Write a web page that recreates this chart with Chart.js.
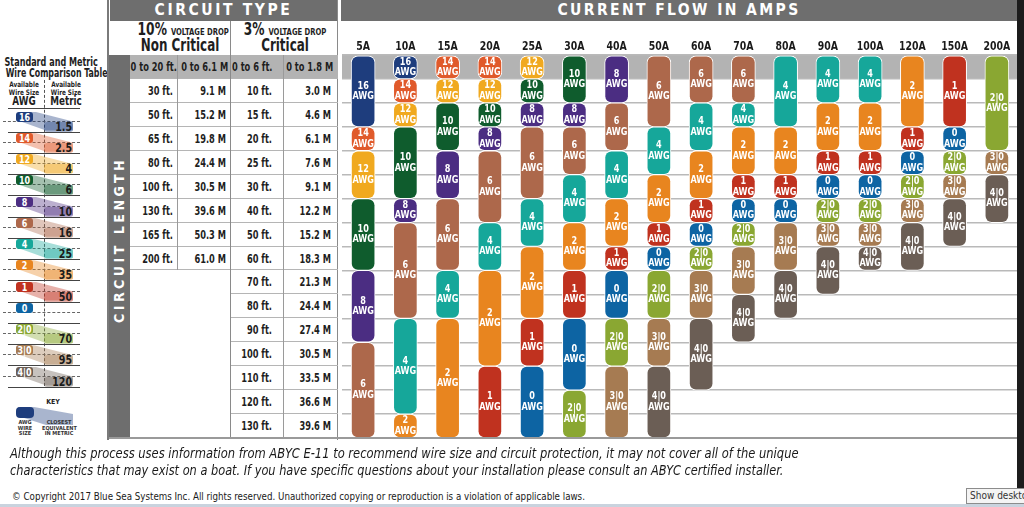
<!DOCTYPE html>
<html>
<head>
<meta charset="utf-8">
<script src="https://cdn.jsdelivr.net/npm/chart.js@4.4.1/dist/chart.umd.min.js"></script>
<style>
  body { margin: 0; background: #fff; }
  #page { position: relative; width: 1024px; height: 507px; overflow: hidden;
          font-family: "Liberation Sans Narrow", "DejaVu Sans Condensed", sans-serif; color: #1e1e1e; }
  #page div { position: absolute; box-sizing: border-box; white-space: nowrap; }
  .band { background: #6e6e6e; color: #fff; font-weight: bold; text-align: center; }
  .cell { font-size: 11.5px; font-weight: bold; text-align: right; line-height: 24px;
          transform: scaleX(0.8); transform-origin: right center; }
  canvas { position: absolute; left: 342px; top: 20px; }
</style>
</head>
<body>
<div id="page">
  <canvas id="chart" width="676" height="420"></canvas>
</div>
<script>
// ─── DATA ─────────────────────────────────────────────────────────────────────
const amps = ['5A', '10A', '15A', '20A', '25A', '30A', '40A', '50A', '60A', '70A', '80A', '90A', '100A', '120A', '150A', '200A'];

const lengthFt10 = ['0 to 20 ft.', '30 ft.', '50 ft.', '65 ft.', '80 ft.', '100 ft.', '130 ft.', '165 ft.', '200 ft.'];
const lengthM10 = ['0 to 6.1 M', '9.1 M', '15.2 M', '19.8 M', '24.4 M', '30.5 M', '39.6 M', '50.3 M', '61.0 M'];
const lengthFt3 = ['0 to 6 ft.', '10 ft.', '15 ft.', '20 ft.', '25 ft.', '30 ft.', '40 ft.', '50 ft.', '60 ft.',
                   '70 ft.', '80 ft.', '90 ft.', '100 ft.', '110 ft.', '120 ft.', '130 ft.'];
const lengthM3 = ['0 to 1.8 M', '3.0 M', '4.6 M', '6.1 M', '7.6 M', '9.1 M', '12.2 M', '15.2 M', '18.3 M',
                  '21.3 M', '24.4 M', '27.4 M', '30.5 M', '33.5 M', '36.6 M', '39.6 M'];

const awgSizes = ['16', '14', '12', '10', '8', '6', '4', '2', '1', '0', '2/0', '3/0', '4/0'];
const metricSizes = ['1.5', '2.5', '4', '6', '10', '16', '25', '35', '50', null, '70', '95', '120'];

// wire size (AWG) needed for each circuit length row, one list per current
const wire5A   = ['16','16','16','14','12','12','10','10','10','8','8','8','6','6','6','6'];
const wire10A  = ['16','14','12','10','10','10','8','6','6','6','6','4','4','4','4','2'];
const wire15A  = ['14','12','10','10','8','8','6','6','6','4','4','2','2','2','2','2'];
const wire20A  = ['14','12','10','8','6','6','6','4','4','2','2','2','2','1','1','1'];
const wire25A  = ['12','10','8','6','6','6','4','4','2','2','2','1','1','0','0','0'];
const wire30A  = ['10','10','8','6','6','4','4','2','2','1','1','0','0','0','2/0','2/0'];
const wire40A  = ['8','8','6','6','4','4','2','2','1','0','0','2/0','2/0','3/0','3/0','3/0'];
const wire50A  = ['6','6','6','4','4','2','2','1','0','2/0','2/0','3/0','3/0','4/0','4/0','4/0'];
const wire60A  = ['6','6','4','4','2','2','1','0','2/0','3/0','3/0','4/0','4/0','4/0',null,null];
const wire70A  = ['6','6','4','2','2','1','0','2/0','3/0','3/0','4/0','4/0',null,null,null,null];
const wire80A  = ['4','4','4','2','2','1','0','3/0','3/0','4/0','4/0',null,null,null,null,null];
const wire90A  = ['4','4','2','2','1','0','2/0','3/0','4/0','4/0',null,null,null,null,null,null];
const wire100A = ['4','4','2','2','1','0','2/0','3/0','4/0',null,null,null,null,null,null,null];
const wire120A = ['2','2','2','1','0','2/0','3/0','4/0','4/0',null,null,null,null,null,null,null];
const wire150A = ['1','1','1','0','2/0','3/0','4/0','4/0',null,null,null,null,null,null,null,null];
const wire200A = ['2/0','2/0','2/0','2/0','3/0','4/0','4/0',null,null,null,null,null,null,null,null,null];

const wireByAmp = [wire5A, wire10A, wire15A, wire20A, wire25A, wire30A, wire40A, wire50A,
                   wire60A, wire70A, wire80A, wire90A, wire100A, wire120A, wire150A, wire200A];

// ─── STYLE ────────────────────────────────────────────────────────────────────
const awgColor = {
  '16': '#1e3d7d', '14': '#e05a2b', '12': '#f0a91f', '10': '#0f5c2d', '8': '#4b2d82',
  '6': '#ad684b', '4': '#16a79a', '2': '#e8851f', '1': '#c0321f', '0': '#0d64a3',
  '2/0': '#8aa732', '3/0': '#a67b52', '4/0': '#6b5e55'
};
const FONT = '"Liberation Sans Narrow", "DejaVu Sans Condensed", sans-serif';
const SQUEEZE = 0.8;   // no narrow font installed, so condense by hand
const ROW_TOP = 55, ROW_H = 383 / 16;
const page = document.getElementById('page');

function box(css, text) {
  const d = document.createElement('div');
  d.style.cssText = css;
  if (text !== undefined) d.textContent = text;
  page.appendChild(d);
  return d;
}
const label = s => s.replace('/', '|');

// ─── LEFT PANEL: AWG / METRIC ─────────────────────────────────────────────────
const sq = (o, k = SQUEEZE) => `transform:scaleX(${k});transform-origin:${o};`;
box('left:-8px;top:57px;width:114px;text-align:center;font-weight:bold;font-size:11.5px;line-height:11px;' + sq('center', 0.78),
    'Standard and Metric');
box('left:-8px;top:68px;width:114px;text-align:center;font-weight:bold;font-size:11.5px;line-height:11px;' + sq('center', 0.76),
    'Wire Comparison Table');
const hdr = (x, y, size, t) =>
  box(`left:${x}px;top:${y}px;width:40px;text-align:center;font-weight:bold;font-size:${size}px;line-height:${size}px;` + sq('center', 0.85), t);
hdr(4, 81, 7.5, 'Available'); hdr(4, 88.5, 7.5, 'Wire Size');
hdr(46, 81, 7.5, 'Available'); hdr(46, 88.5, 7.5, 'Wire Size');
hdr(4, 96, 11.5, 'AWG'); hdr(46, 96, 11.5, 'Metric');
box('left:8px;top:108px;width:72px;height:0;border-top:1px solid #444;');
box('left:44px;top:80px;width:0;height:306px;border-left:1px dashed #555;');

awgSizes.forEach((size, i) => {
  const top = 111.5 + i * 21.25;
  const col = awgColor[size];
  box(`left:3px;top:${top + 9}px;width:77px;height:0;border-top:1px dashed #666;`);
  box(`left:8px;top:${top + 20}px;width:72px;height:0;border-top:1px solid #444;`);
  if (metricSizes[i] !== null) {
    box(`left:18px;top:${top}px;width:55px;height:20px;background:${col};opacity:0.38;
         clip-path:polygon(0 0,16px 0,55px 10px,55px 19px,28px 19px,0 9px);`);
    box(`left:44px;top:${top + 10}px;width:29px;height:10px;background:${col};opacity:0.38;border-radius:3px;`);
    box(`left:40px;top:${top + 9}px;width:32px;text-align:right;font-weight:bold;font-size:12px;line-height:12px;color:#1a1a1a;` + sq('right center', 0.88),
        metricSizes[i]);
  }
  box(`left:16px;top:${top}px;width:17px;height:10px;background:${col};border-radius:3px;`);
  box(`left:14px;top:${top}px;width:21px;color:#fff;text-align:center;font-weight:bold;font-size:10.5px;line-height:10px;` + sq('center', 0.85),
      label(size));
});

// key
box('left:36px;top:399px;width:34px;text-align:center;font-weight:bold;font-size:7px;line-height:7px;', 'KEY');
box(`left:18px;top:407px;width:55px;height:20px;background:${awgColor['16']};opacity:0.38;
     clip-path:polygon(0 0,16px 0,55px 7px,55px 18px,28px 18px,0 9px);`);
box(`left:16px;top:407px;width:18px;height:11px;background:${awgColor['16']};border-radius:4px;`);
['AWG', 'WIRE', 'SIZE'].forEach((t, i) =>
  box(`left:14px;top:${420 + i * 5.5}px;width:22px;text-align:center;font-weight:bold;font-size:5.5px;line-height:5.5px;color:#333;`, t));
['CLOSEST', 'EQUIVALENT', 'IN METRIC'].forEach((t, i) =>
  box(`left:42px;top:${420 + i * 5.5}px;width:34px;text-align:center;font-weight:bold;font-size:5.5px;line-height:5.5px;color:#333;`, t));

// ─── TABLE: CIRCUIT TYPE / LENGTH ─────────────────────────────────────────────
box('left:107px;top:0;width:2px;height:440px;background:#7a7a7a;');
box('left:110px;top:0;width:227px;height:21px;font-size:15.5px;line-height:21px;letter-spacing:2.6px;', 'CIRCUIT TYPE')
  .className = 'band';
box('left:341px;top:0;width:676px;height:21px;font-size:15.5px;line-height:21px;letter-spacing:2.4px;', 'CURRENT FLOW IN AMPS')
  .className = 'band';
box('left:337px;top:0;width:4px;height:440px;background:#fff;border-left:1.5px solid #8a8a8a;');

const head = (x, big, sub) => {
  const d = box(`left:${x}px;top:22px;width:106px;text-align:center;font-weight:bold;line-height:14px;` + sq('center', 0.8));
  d.innerHTML = `<span style="font-size:17px">${big}</span> <span style="font-size:9.5px">VOLTAGE DROP</span>`;
  box(`left:${x}px;top:37px;width:106px;text-align:center;font-weight:bold;font-size:17px;line-height:16px;` + sq('center', 0.78), sub);
};
head(127, '10%', 'Non Critical');
head(232, '3%', 'Critical');

box(`left:109px;top:${ROW_TOP}px;width:21px;height:${16 * ROW_H}px;background:#6e6e6e;`);
box(`left:${119 - 80}px;top:${243 - 10}px;width:160px;height:20px;text-align:center;color:#fff;font-weight:bold;
     font-size:14px;line-height:20px;letter-spacing:3.5px;transform:rotate(-90deg);`, 'CIRCUIT LENGTH');

box(`left:130px;top:${ROW_TOP}px;width:208px;height:${ROW_H}px;background:#b3b3b3;`);
lengthFt3.forEach((t, i) => {
  const y = ROW_TOP + i * ROW_H;
  const full = i <= 8;
  box(`left:${full ? 130 : 230}px;top:${y + ROW_H - 1}px;width:${full ? 208 : 108}px;height:0;border-top:1.5px solid #b5b5b5;`);
  if (full) {
    box(`left:120px;top:${y}px;width:53px;`, lengthFt10[i]).className = 'cell';
    box(`left:170px;top:${y}px;width:56px;`, lengthM10[i]).className = 'cell';
  }
  box(`left:222px;top:${y}px;width:50px;`, t).className = 'cell';
  box(`left:275px;top:${y}px;width:56px;`, lengthM3[i]).className = 'cell';
});
box(`left:177px;top:${ROW_TOP}px;width:0;height:${9 * ROW_H}px;border-left:1.5px solid #9a9a9a;`);
box(`left:230px;top:21px;width:0;height:${ROW_TOP - 21 + 16 * ROW_H}px;border-left:1.5px solid #8a8a8a;`);
box(`left:283px;top:${ROW_TOP}px;width:0;height:${16 * ROW_H}px;border-left:1.5px solid #9a9a9a;`);
box(`left:109px;top:${ROW_TOP + 16 * ROW_H - 1}px;width:908px;height:0;border-top:2px solid #9a9a9a;`);

// right edge + footer
box('left:1017px;top:0;width:7px;height:488px;background:#1c1c1c;');
box('left:10px;top:445px;font-style:italic;font-size:13.5px;line-height:17px;color:#1a1a1a;' + sq('left center', 0.948),
    'Although this process uses information from ABYC E-11 to recommend wire size and circuit protection, it may not cover all of the unique');
box('left:10px;top:462px;font-style:italic;font-size:13.5px;line-height:17px;color:#1a1a1a;' + sq('left center', 0.935),
    'characteristics that may exist on a boat. If you have specific questions about your installation please consult an ABYC certified installer.');
box('left:12px;top:490px;font-size:11px;line-height:13px;color:#1a1a1a;' + sq('left center', 0.88),
    '\u00a9 Copyright 2017 Blue Sea Systems Inc. All rights reserved. Unauthorized copying or reproduction is a violation of applicable laws.');
box('left:966px;top:488px;width:60px;height:16px;background:#f4f4f4;border:1px solid #8c8c8c;font-size:10px;line-height:14px;padding-left:3px;color:#333;',
    'Show desktop');
box('left:0;top:504px;width:1024px;height:3px;background:#c9d3de;');

// ─── CHART ────────────────────────────────────────────────────────────────────
function segments(sizes) {
  const out = [];
  sizes.forEach((s, i) => {
    if (s === null) return;
    const last = out[out.length - 1];
    if (last && last.size === s && last.end === i) last.end = i + 1;
    else out.push({ size: s, start: i, end: i + 1 });
  });
  return out;
}
const segs = wireByAmp.map(segments);
const maxSegs = Math.max(...segs.map(s => s.length));

const datasets = [];
for (let k = 0; k < maxSegs; k++) {
  datasets.push({
    data: segs.map(s => (s[k] ? [s[k].start, s[k].end] : null)),
    sizes: segs.map(s => (s[k] ? s[k].size : null)),
    backgroundColor: segs.map(s => (s[k] ? awgColor[s[k].size] : 'transparent')),
    borderColor: '#fff',
    borderWidth: 1,
    borderSkipped: false,
    borderRadius: 7,
    barThickness: 24,
    grouped: false
  });
}

const firstRowBand = {
  id: 'firstRowBand',
  beforeDraw(chart) {
    const { ctx, chartArea, scales } = chart;
    ctx.save();
    ctx.fillStyle = '#b3b3b3';
    const y0 = scales.y.getPixelForValue(0), y1 = scales.y.getPixelForValue(1);
    ctx.fillRect(chartArea.left, y0, chartArea.right - chartArea.left, y1 - y0);
    ctx.restore();
  }
};

// draws text squeezed sideways, centred on (x, y)
function narrowText(ctx, text, x, y, k) {
  ctx.save();
  ctx.translate(x, y);
  ctx.scale(k, 1);
  ctx.fillText(text, 0, 0);
  ctx.restore();
}

const ampLabels = {
  id: 'ampLabels',
  afterDraw(chart) {
    const { ctx, scales, chartArea } = chart;
    ctx.save();
    ctx.fillStyle = '#1a1a1a';
    ctx.textAlign = 'center';
    ctx.textBaseline = 'middle';
    ctx.font = `bold 13px ${FONT}`;
    chart.data.labels.forEach((t, i) => narrowText(ctx, t, scales.x.getPixelForTick(i), chartArea.top - 8, 0.8));
    ctx.restore();
  }
};

const barLabels = {
  id: 'barLabels',
  afterDatasetsDraw(chart) {
    const { ctx } = chart;
    ctx.save();
    ctx.fillStyle = '#fff';
    ctx.textAlign = 'center';
    ctx.textBaseline = 'middle';
    ctx.font = `bold 11px ${FONT}`;
    chart.data.datasets.forEach((ds, i) => {
      chart.getDatasetMeta(i).data.forEach((bar, j) => {
        const size = ds.sizes[j];
        if (!size) return;
        const cy = (bar.y + bar.base) / 2;
        narrowText(ctx, label(size), bar.x, cy - 5.5, 0.82);
        narrowText(ctx, 'AWG', bar.x, cy + 5, 0.82);
      });
    });
    ctx.restore();
  }
};

new Chart(document.getElementById('chart'), {
  type: 'bar',
  data: { labels: amps, datasets },
  options: {
    responsive: false,
    animation: false,
    layout: { padding: { top: 0, bottom: 2, left: 0, right: 0 } },
    plugins: { legend: { display: false }, tooltip: { enabled: false } },
    scales: {
      x: {
        position: 'top',
        grid: { display: false, drawTicks: false },
        border: { display: false },
        ticks: { display: false },
        afterFit: s => { s.height = 35; }
      },
      y: {
        min: 0, max: 16, reverse: true,
        ticks: { display: false, stepSize: 1 },
        grid: { color: '#b9b9b9', lineWidth: 1.5, drawTicks: false },
        border: { display: false },
        afterFit: s => { s.width = 0; }
      }
    }
  },
  plugins: [firstRowBand, barLabels, ampLabels]
});
</script>
</body>
</html>
